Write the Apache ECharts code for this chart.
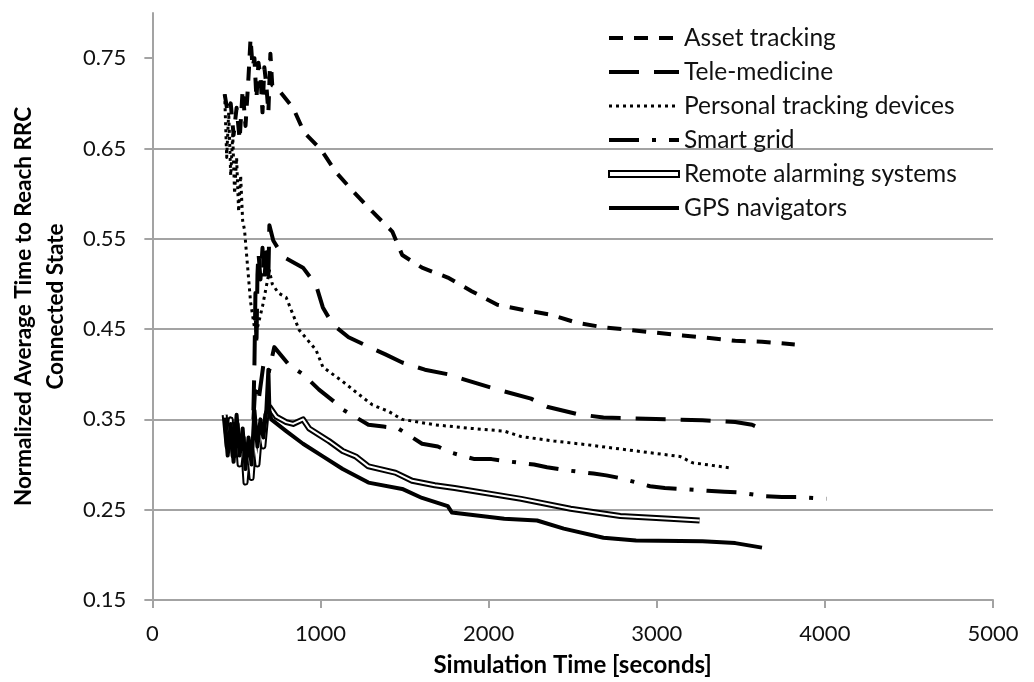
<!DOCTYPE html>
<html>
<head>
<meta charset="utf-8">
<title>Normalized average time to reach RRC connected state</title>
<script src="https://cdn.jsdelivr.net/npm/echarts@6/dist/echarts.min.js"></script>
<style>
  html, body { margin: 0; padding: 0; background: #fff; }
  #chart { width: 1034px; height: 682px; }
</style>
</head>
<body>
<div id="chart"></div>
<script>
// Simulation time [s] vs normalized average time to reach RRC connected state
const seriesNames = [
  'Asset tracking',
  'Tele-medicine',
  'Personal tracking devices',
  'Smart grid',
  'Remote alarming systems',
  'GPS navigators'
];

const assetTracking = [[430,0.71],[448,0.69],[466,0.70],[483,0.665],[501,0.695],[519,0.66],[537,0.715],[554,0.675],[572,0.73],[584,0.772],[596,0.74],[607,0.75],[619,0.705],[631,0.745],[643,0.73],[655,0.69],[666,0.74],[678,0.72],[690,0.69],[702,0.755],[713,0.72],[737,0.718],[837,0.695],[902,0.668],[1002,0.649],[1091,0.624],[1191,0.603],[1309,0.58],[1427,0.558],[1486,0.532],[1604,0.518],[1757,0.507],[1899,0.492],[2052,0.477],[2211,0.471],[2370,0.466],[2524,0.457],[2683,0.452],[2842,0.449],[2995,0.446],[3154,0.443],[3314,0.44],[3467,0.437],[3626,0.436],[3821,0.433]];

const teleMedicine = [[601,0.36],[607,0.41],[613,0.49],[619,0.43],[625,0.51],[631,0.535],[643,0.505],[655,0.54],[666,0.505],[678,0.535],[690,0.51],[696,0.565],[719,0.548],[778,0.53],[896,0.518],[973,0.499],[1014,0.474],[1073,0.455],[1167,0.441],[1268,0.432],[1386,0.422],[1486,0.413],[1621,0.405],[1757,0.40],[1857,0.394],[2052,0.383],[2252,0.373],[2347,0.364],[2524,0.356],[2683,0.352],[2877,0.351],[3078,0.35],[3272,0.349],[3467,0.347],[3567,0.344],[3614,0.34]];

const personalTracking = [[430,0.71],[442,0.64],[454,0.69],[466,0.62],[478,0.665],[489,0.60],[501,0.64],[513,0.58],[525,0.62],[537,0.57],[548,0.56],[566,0.52],[584,0.48],[607,0.452],[619,0.447],[655,0.475],[696,0.515],[713,0.50],[749,0.49],[796,0.485],[873,0.449],[973,0.427],[1014,0.408],[1132,0.392],[1226,0.378],[1309,0.366],[1403,0.359],[1486,0.35],[1680,0.344],[1899,0.34],[2093,0.337],[2193,0.331],[2388,0.326],[2583,0.322],[2877,0.315],[3137,0.309],[3213,0.302],[3449,0.296]];

const smartGrid = [[601,0.35],[613,0.39],[631,0.37],[660,0.41],[690,0.40],[725,0.43],[814,0.41],[896,0.40],[991,0.383],[1079,0.37],[1132,0.361],[1285,0.344],[1374,0.342],[1462,0.34],[1604,0.323],[1698,0.32],[1781,0.313],[1916,0.306],[2017,0.306],[2093,0.304],[2270,0.30],[2347,0.297],[2447,0.294],[2624,0.29],[2700,0.288],[2783,0.285],[2960,0.276],[3048,0.274],[3137,0.273],[3302,0.271],[3402,0.27],[3491,0.269],[3644,0.265],[3744,0.264],[3844,0.264],[4009,0.262]];

const remoteAlarming = [[430,0.355],[448,0.32],[466,0.35],[483,0.31],[501,0.345],[519,0.30],[537,0.33],[554,0.28],[572,0.32],[590,0.285],[607,0.33],[625,0.30],[643,0.34],[660,0.32],[678,0.355],[696,0.364],[737,0.353],[796,0.347],[837,0.345],[896,0.35],[932,0.34],[1050,0.326],[1132,0.315],[1209,0.309],[1285,0.298],[1445,0.291],[1545,0.282],[1680,0.277],[1798,0.274],[2193,0.262],[2488,0.251],[2783,0.243],[3078,0.24],[3255,0.238]];

const gpsNavigators = [[430,0.352],[448,0.31],[466,0.345],[483,0.303],[501,0.355],[519,0.31],[537,0.34],[554,0.295],[572,0.33],[590,0.30],[607,0.36],[625,0.32],[643,0.35],[660,0.33],[678,0.36],[690,0.405],[696,0.36],[707,0.35],[796,0.337],[896,0.323],[1014,0.309],[1132,0.295],[1285,0.28],[1486,0.273],[1604,0.263],[1757,0.254],[1781,0.247],[2093,0.24],[2288,0.238],[2447,0.229],[2683,0.219],[2877,0.216],[3272,0.215],[3467,0.213],[3626,0.208]];

const yTickValues = [0.15, 0.25, 0.35, 0.45, 0.55, 0.65, 0.75];

const FONT = 'Lato, "Liberation Sans", sans-serif';
const GRID_GRAY = '#a3a3a3';

function lineSeries(name, data, width, dash, color, z) {
  return {
    name: name,
    type: 'line',
    data: data,
    symbol: 'none',
    smooth: false,
    animation: false,
    z: z,
    lineStyle: { color: color, width: width, type: dash, cap: 'butt', join: 'round' },
    itemStyle: { color: color }
  };
}

// legend entry drawn as a plain line sample (no marker in the middle)
function lineLegend(name, width) {
  return { name: name, itemStyle: { opacity: 0 }, lineStyle: { width: width } };
}

const chart = echarts.init(document.getElementById('chart'), null, { renderer: 'canvas' });

chart.setOption({
  backgroundColor: '#ffffff',
  animation: false,
  grid: { left: 145, right: 41, top: 13, bottom: 77, containLabel: false },
  legend: {
    orient: 'vertical',
    left: 602,
    top: 20,
    itemWidth: 70,
    itemHeight: 6,
    itemGap: 8,
    selectedMode: false,
    textStyle: { fontFamily: FONT, fontSize: 24.5, lineHeight: 26, color: '#111' },
    data: [
      lineLegend(seriesNames[0], 4),
      lineLegend(seriesNames[1], 4),
      lineLegend(seriesNames[2], 3),
      lineLegend(seriesNames[3], 4),
      { name: seriesNames[4], icon: 'rect', itemStyle: { color: '#ffffff', borderColor: '#000000', borderWidth: 2, opacity: 1 } },
      lineLegend(seriesNames[5], 4)
    ]
  },
  xAxis: {
    type: 'value',
    min: 0,
    max: 5000,
    interval: 1000,
    name: 'Simulation Time [seconds]',
    nameLocation: 'middle',
    nameGap: 53,
    nameTextStyle: { fontFamily: FONT, fontWeight: 'bold', fontSize: 24, color: '#000' },
    axisLine: { show: true, lineStyle: { color: GRID_GRAY, width: 2 } },
    axisTick: { show: true, inside: false, length: 8, lineStyle: { color: GRID_GRAY, width: 2 } },
    axisLabel: { fontFamily: FONT, fontSize: 22, color: '#111', margin: 23, formatter: v => String(v) },
    splitLine: { show: false }
  },
  yAxis: {
    type: 'value',
    min: 0.15,
    max: 0.8,
    interval: 0.1,
    name: 'Normalized Average Time to Reach RRC\nConnected State',
    nameLocation: 'middle',
    nameRotate: 90,
    nameGap: 77,
    nameTextStyle: { fontFamily: FONT, fontWeight: 'bold', fontSize: 22.5, lineHeight: 32, color: '#000', align: 'center' },
    axisLine: { show: true, lineStyle: { color: GRID_GRAY, width: 2 } },
    axisTick: { show: true, inside: false, length: 8, customValues: yTickValues, lineStyle: { color: GRID_GRAY, width: 2 } },
    axisLabel: {
      fontFamily: FONT, fontSize: 22, color: '#111', margin: 26,
      customValues: yTickValues,
      formatter: v => v.toFixed(2)
    },
    splitLine: { show: true, showMaxLine: false, lineStyle: { color: GRID_GRAY, width: 2 } }
  },
  series: [
    lineSeries(seriesNames[0], assetTracking, 4, [14, 11], '#000', 2),
    lineSeries(seriesNames[1], teleMedicine, 4, [30, 15], '#000', 3),
    lineSeries(seriesNames[2], personalTracking, 3, [3, 4], '#000', 4),
    lineSeries(seriesNames[3], smartGrid, 4, [30, 13, 4, 13], '#000', 5),
    lineSeries(seriesNames[4], remoteAlarming, 6, 'solid', '#000', 6),
    // inner white stroke that turns the remote alarming line into a double line
    Object.assign(lineSeries('remote-inner', remoteAlarming, 2, 'solid', '#ffffff', 7), { silent: true }),
    lineSeries(seriesNames[5], gpsNavigators, 4, 'solid', '#000', 8)
  ]
});
</script>
</body>
</html>
